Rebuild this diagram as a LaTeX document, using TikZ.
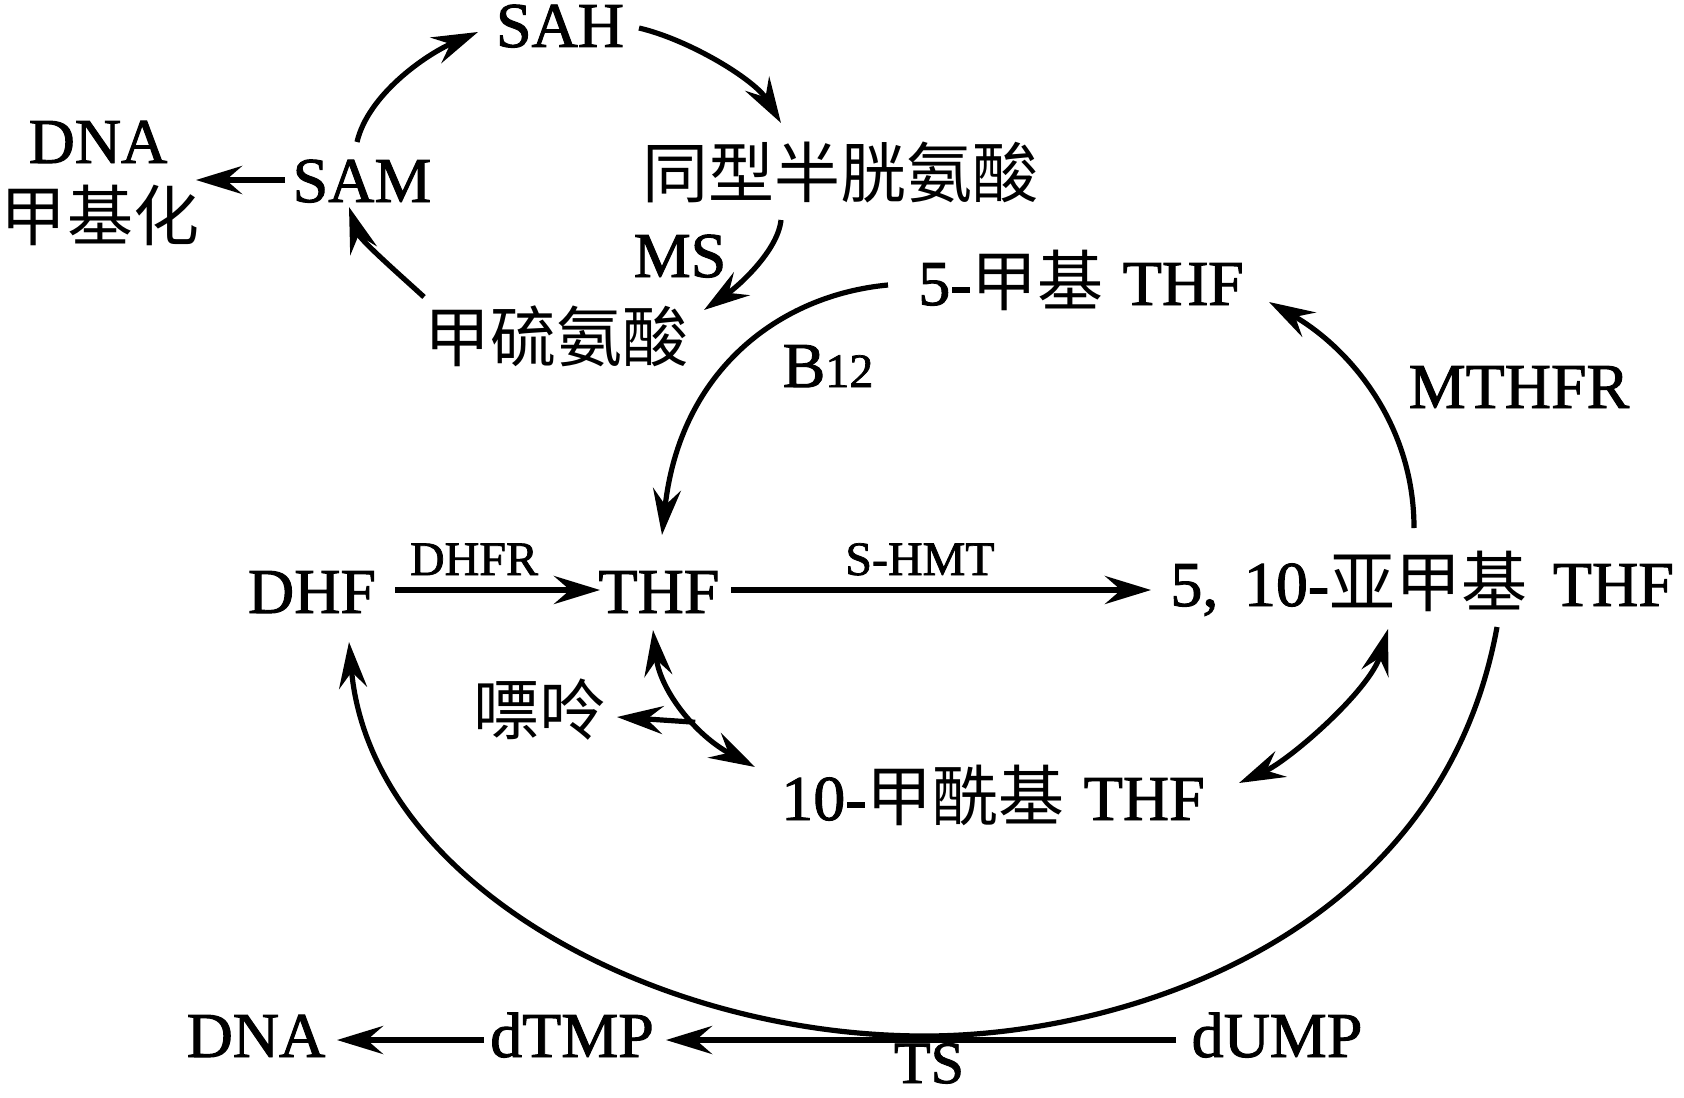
\documentclass[tikz,border=0pt]{standalone}
\usepackage{fontspec}
\setmainfont{Liberation Serif}[FakeBold=1.5]
\newfontfamily\cjk{Noto Sans CJK SC}
\usetikzlibrary{arrows.meta}
\newcommand\zh[1]{{\cjk\fontsize{33}{36}\selectfont #1}}
\begin{document}
\begin{tikzpicture}[x=0.5pt,y=-0.5pt,
  >={Stealth[length=23pt,width=14pt,inset=8pt]},
  lbl/.style={inner sep=0pt, font=\fontsize{32}{36}\selectfont},
  sml/.style={inner sep=0pt, font=\fontsize{24}{28}\selectfont},
  arr/.style={line width=3pt, ->},
  carr/.style={line width=2.6pt, ->},
  darr/.style={line width=2.6pt, <->}]
\useasboundingbox (0,0) rectangle (1684,1097);

% nodes
\node[lbl, anchor=base] (sah) at (560,47) {SAH};
\node[lbl, anchor=base] (sam) at (362,202) {SAM};
\node[lbl, anchor=base] (dna1) at (98,163) {DNA};
\node[lbl] (meth) at (100,215) {\zh{甲基化}};
\node[lbl] (hcy) at (840,172) {\zh{同型半胱氨酸}};
\node[lbl, anchor=base] (ms) at (680,277) {MS};
\node[lbl] (met) at (556,336) {\zh{甲硫氨酸}};
\node[lbl, anchor=base] (mthf) at (1081,305) {5-\zh{甲基}\hspace{0.3em}THF};
\node[lbl, anchor=base] (b12) at (828,387) {B{\fontsize{24}{28}\selectfont 12}};
\node[lbl, anchor=base] (mthfr) at (1519,408) {MTHFR};
\node[sml, anchor=base] (dhfr) at (474,575) {DHFR};
\node[sml, anchor=base] (shmt) at (920,575) {S-HMT};
\node[lbl, anchor=base] (dhf) at (312,613) {DHF};
\node[lbl, anchor=base] (thf) at (659,613) {THF};
\node[lbl, anchor=base west] (methy) at (1170,606) {5,\hspace{0.4em}10-\zh{亚甲基}\hspace{0.4em}THF};
\node[lbl] (pur) at (539,710) {\zh{嘌呤}};
\node[lbl, anchor=base] (form) at (993,820) {10-\zh{甲酰基}\hspace{0.3em}THF};
\node[lbl, anchor=base] (dna2) at (256,1057) {DNA};
\node[lbl, anchor=base] (dtmp) at (572,1057) {dTMP};
\node[lbl, anchor=base] (dump) at (1277,1057) {dUMP};
\node[lbl, anchor=base, font=\fontsize{30}{34}\selectfont] (ts) at (929,1083) {TS};

% connector end points
\coordinate (samN) at (357,142);
\coordinate (sahW) at (478,32);
\coordinate (sahE) at (639,28);
\coordinate (hcyN) at (781,123);
\coordinate (hcyS) at (781,220);
\coordinate (metNE) at (704,310);
\coordinate (metNW) at (424,297);
\coordinate (samS) at (349,207);
\coordinate (samW) at (285,180);
\coordinate (methE) at (196,180);
\coordinate (mthfW) at (888,285);
\coordinate (thfN) at (662,535);
\coordinate (methyN) at (1414,528);
\coordinate (mthfE) at (1269,302);
\coordinate (dhfE) at (395,590);
\coordinate (thfW) at (600,590);
\coordinate (thfE) at (731,590);
\coordinate (methyW) at (1151,590);
\coordinate (thfS) at (653,630);
\coordinate (formNW) at (755,767);
\coordinate (purE) at (617,717);
\coordinate (formE) at (1239,783);
\coordinate (methyS) at (1388,629);
\coordinate (methySE) at (1497,627);
\coordinate (bottom) at (925,1036);
\coordinate (dhfS) at (349,642);
\coordinate (dumpW) at (1176,1040);
\coordinate (dtmpE) at (666,1040);
\coordinate (dtmpW) at (484,1040);
\coordinate (dnaE) at (337,1040);

% methionine cycle
\draw[carr] (samN) .. controls (368,95) and (425,55) .. (sahW);
\draw[carr] (sahE) .. controls (690,40) and (755,80) .. (hcyN);
\draw[carr] (hcyS) .. controls (778,250) and (740,285) .. (metNE);
\draw[carr] (metNW) .. controls (400,275) and (360,240) .. (samS);
\draw[arr] (samW) -- (methE);

% folate cycle
\draw[carr] (mthfW) .. controls (780,295) and (680,370) .. (thfN);
\draw[carr] (methyN) .. controls (1414,420) and (1345,345) .. (mthfE);
\draw[arr] (dhfE) -- (thfW);
\draw[arr] (thfE) -- (methyW);
\draw[darr] (thfS) .. controls (660,690) and (695,735) .. coordinate[pos=0.6] (purJ) (formNW);
\draw[carr] (purJ) -- (purE);
\draw[darr] (formE) .. controls (1290,760) and (1370,690) .. (methyS);
\draw[carr] (methySE) .. controls (1440,940) and (1120,1036) .. (bottom)
   .. controls (650,1036) and (370,880) .. (dhfS);

% thymidylate
\draw[arr] (dumpW) -- (dtmpE);
\draw[arr] (dtmpW) -- (dnaE);
\end{tikzpicture}
\end{document}
